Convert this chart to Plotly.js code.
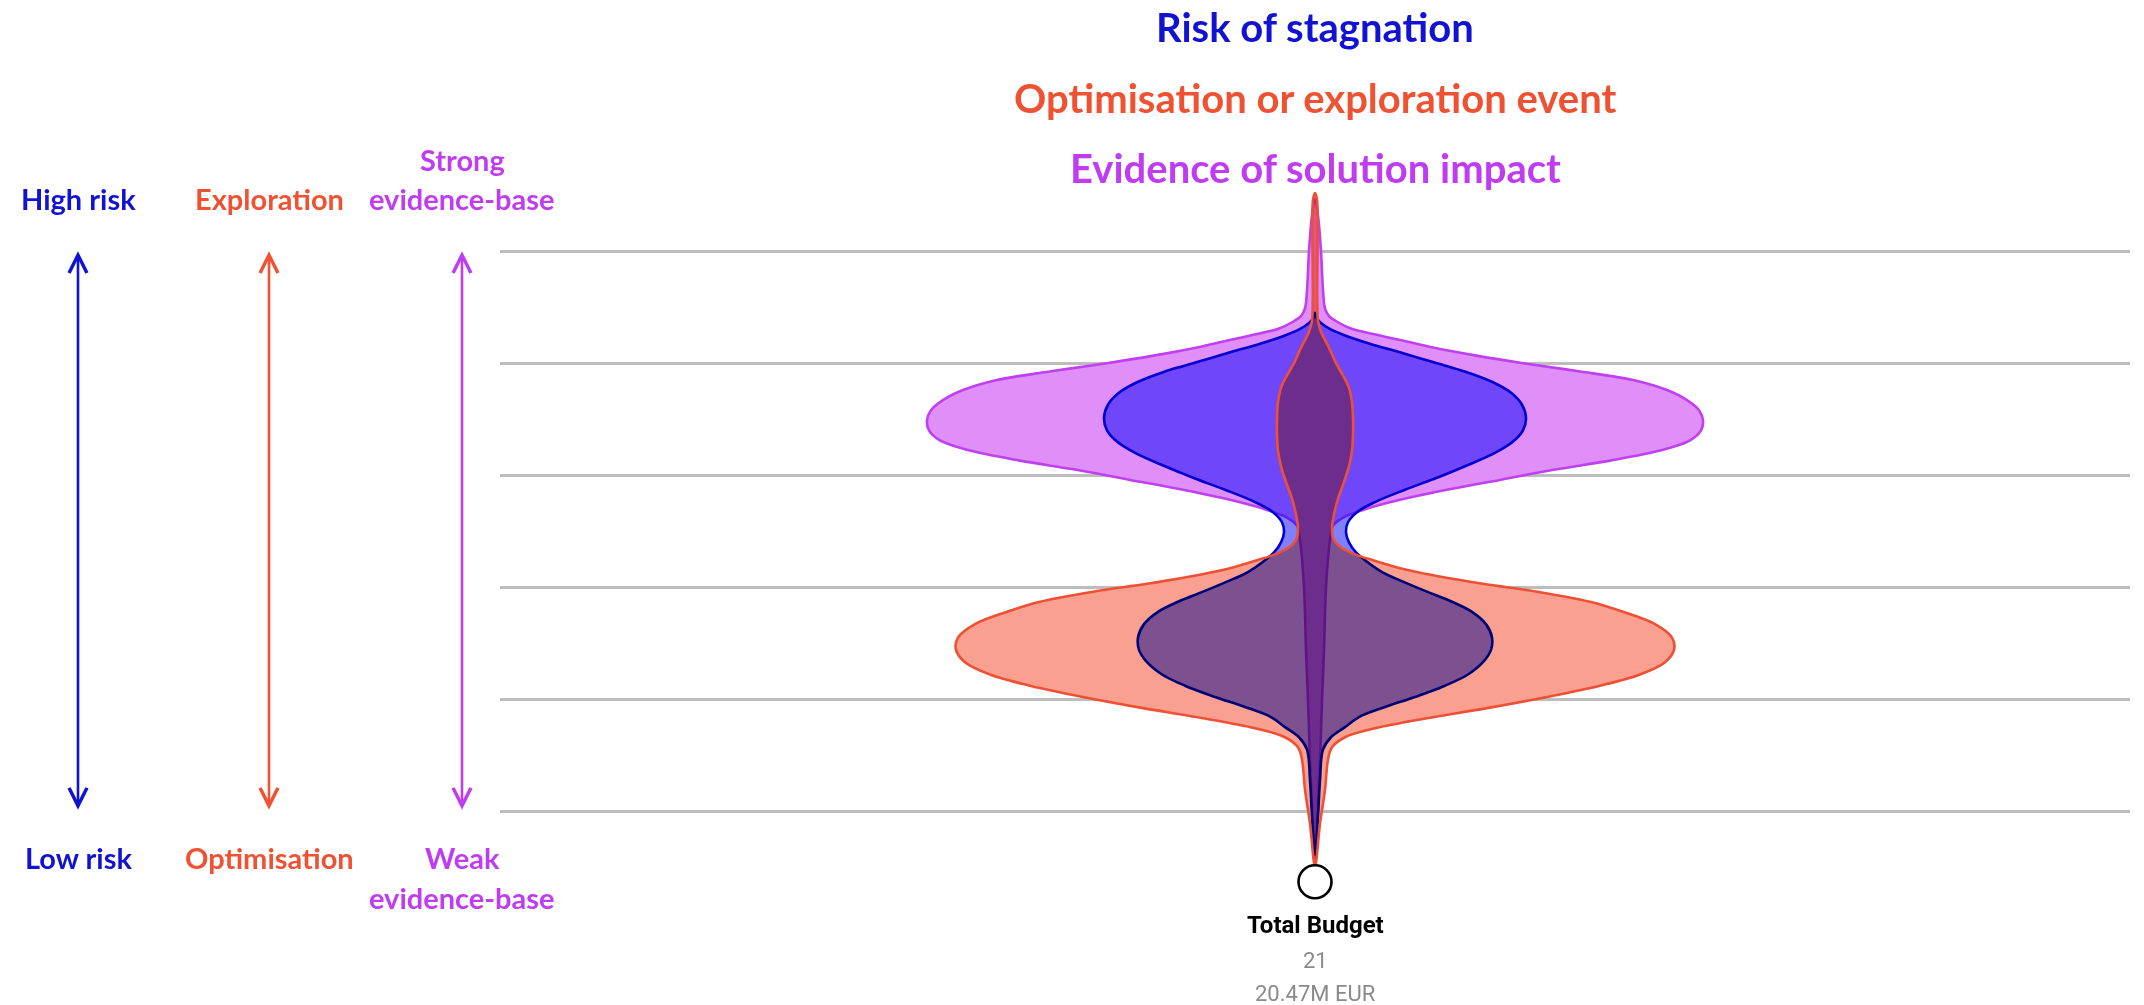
<!DOCTYPE html>
<html>
<head>
<meta charset="utf-8">
<script src="https://cdn.plot.ly/plotly-3.0.1.min.js"></script>
<style>
  html, body { margin: 0; padding: 0; background: #ffffff; }
  #chart { width: 2144px; height: 1005px; }
  #chart .js-fill { mix-blend-mode: multiply; }
</style>
</head>
<body>
<div id="chart"></div>
<script>
// ---------------- DATA ----------------
// Vertical levels (gridline units, 0 = bottom line, 5 = top line) and half-widths of each profile.
// Evidence of solution impact (purple)
const evidenceY  = [5.47, 5.32, 5.00, 4.65, 4.49, 4.42, 4.37, 4.31, 4.26, 4.21,
                    4.14, 4.07, 4.00, 3.93, 3.85, 3.76, 3.67, 3.58, 3.49, 3.40,
                    3.31, 3.22, 3.13, 3.05, 2.96, 2.87, 2.78, 2.69, 2.62, 2.55,
                    2.42, 2.00, 1.44, 0.99, 0.46, 0.01, -0.35, -0.46];
const evidenceHW = [0.00, 0.03, 0.06, 0.08, 0.10, 0.14, 0.22, 0.36, 0.58, 0.84,
                    1.18, 1.60, 2.08, 2.62, 3.18, 3.52, 3.72, 3.84, 3.88, 3.86,
                    3.75, 3.45, 2.95, 2.40, 1.86, 1.32, 0.85, 0.48, 0.28, 0.18,
                    0.15, 0.11, 0.09, 0.07, 0.05, 0.03, 0.01, 0.00];

// Risk of stagnation (blue)
const riskY  = [4.45, 4.40, 4.36, 4.31, 4.24, 4.17, 4.10, 4.01, 3.92, 3.83,
                3.73, 3.63, 3.51, 3.40, 3.30, 3.19, 3.08, 2.97, 2.87, 2.76,
                2.67, 2.58, 2.49, 2.40, 2.31, 2.22, 2.13, 2.05, 1.96, 1.87,
                1.78, 1.67, 1.55, 1.44, 1.33, 1.22, 1.12, 1.02, 0.93, 0.84,
                0.75, 0.66, 0.55, 0.28, -0.04, -0.39];
const riskHW = [0.00, 0.02, 0.06, 0.14, 0.32, 0.56, 0.84, 1.18, 1.52, 1.78,
                1.97, 2.07, 2.11, 2.08, 1.98, 1.78, 1.50, 1.20, 0.90, 0.60,
                0.42, 0.33, 0.31, 0.34, 0.41, 0.53, 0.68, 0.88, 1.12, 1.37,
                1.57, 1.71, 1.77, 1.76, 1.68, 1.53, 1.30, 1.00, 0.70, 0.44,
                0.30, 0.16, 0.08, 0.05, 0.03, 0.00];

// Optimisation or exploration event (red)
const eventY  = [5.52, 5.46, 4.38, 4.28, 4.19, 4.10, 4.00, 3.89, 3.78, 3.65,
                 3.51, 3.37, 3.22, 3.08, 2.94, 2.79, 2.65, 2.53, 2.44, 2.37,
                 2.30, 2.24, 2.17, 2.10, 2.03, 1.96, 1.87, 1.78, 1.67, 1.55,
                 1.44, 1.33, 1.22, 1.12, 1.02, 0.92, 0.83, 0.74, 0.66, 0.57,
                 0.46, 0.19, -0.11, -0.49];
const eventHW = [0.00, 0.02, 0.03, 0.06, 0.11, 0.16, 0.21, 0.28, 0.34, 0.37,
                 0.38, 0.38, 0.37, 0.34, 0.29, 0.23, 0.19, 0.17, 0.18, 0.24,
                 0.38, 0.58, 0.85, 1.22, 1.68, 2.22, 2.75, 3.08, 3.40, 3.57,
                 3.59, 3.50, 3.25, 2.85, 2.32, 1.72, 1.12, 0.60, 0.30, 0.17,
                 0.13, 0.10, 0.05, 0.00];

// Root node
const nodeX = [0];
const nodeY = [-0.63];
const nodeLabel  = "Total Budget";
const nodeCount  = "21";
const nodeAmount = "20.47M EUR";

// Texts
const titleLines = ["Risk of stagnation", "Optimisation or exploration event", "Evidence of solution impact"];
const scaleTop    = ["High risk", "Exploration", ["Strong", "evidence-base"]];
const scaleBottom = ["Low risk", "Optimisation", ["Weak", "evidence-base"]];

// ---------------- STYLE ----------------
const BLUE_T = '#1212d2', RED_T = '#ef5233', PURP_T = '#c03cf0';
const W = 2144, H = 1005, ML = 500, MR = 14, MT = 184, MB = 102;
const plotW = W - ML - MR, plotH = H - MT - MB;
const px2x = px => (px - ML) / plotW;
const py = Y => (MT + plotH - Y) / plotH;

function outline(ys, hws) {
  const xs = [], yy = [];
  for (let i = 0; i < ys.length; i++) { xs.push(-hws[i]); yy.push(ys[i]); }
  for (let i = ys.length - 2; i >= 0; i--) { xs.push(hws[i]); yy.push(ys[i]); }
  return { x: xs, y: yy };
}

function violin(ys, hws, fill, line, name) {
  const o = outline(ys, hws);
  return {
    type: 'scatter', mode: 'lines', name: name,
    x: o.x, y: o.y, fill: 'toself', fillcolor: fill,
    line: { color: line, width: 2.6, shape: 'spline', smoothing: 1 },
    hoverinfo: 'skip'
  };
}

const traces = [
  violin(evidenceY, evidenceHW, '#e08ef8', '#bf40f0', titleLines[2]),
  violin(riskY, riskHW, '#8080ff', '#0000d0', titleLines[0]),
  violin(eventY, eventHW, '#f9a090', '#ee5035', titleLines[1]),
  {
    type: 'scatter', mode: 'markers', x: nodeX, y: nodeY,
    marker: { size: 33, color: '#ffffff', line: { color: '#000000', width: 2.6 } },
    hoverinfo: 'skip'
  }
];

const ann = [];
const titleFont = (c) => ({ family: 'Lato, "Open Sans", sans-serif', size: 40, color: c });
const titleY = [27, 98, 168];
const titleC = [BLUE_T, RED_T, PURP_T];
titleLines.forEach((t, i) => ann.push({
  xref: 'paper', yref: 'paper', x: 0.5, y: py(titleY[i]), xanchor: 'center', yanchor: 'middle',
  text: '<b>' + t + '</b>', showarrow: false, font: titleFont(titleC[i])
}));

const colX = [78, 269, 462];
const colC = [BLUE_T, RED_T, PURP_T];
const lblFont = (c) => ({ family: 'Lato, "Open Sans", sans-serif', size: 29, color: c });
function addLabel(text, xpx, ypx, c) {
  ann.push({ xref: 'paper', yref: 'paper', x: px2x(xpx), y: py(ypx), xanchor: 'center', yanchor: 'middle',
    text: '<b>' + text + '</b>', showarrow: false, font: lblFont(c) });
}
scaleTop.forEach((t, i) => {
  if (Array.isArray(t)) { addLabel(t[0], colX[i], 159, colC[i]); addLabel(t[1], colX[i], 199, colC[i]); }
  else addLabel(t, colX[i], 199, colC[i]);
});
scaleBottom.forEach((t, i) => {
  if (Array.isArray(t)) { addLabel(t[0], colX[i], 857, colC[i]); addLabel(t[1], colX[i], 897, colC[i]); }
  else addLabel(t, colX[i], 857, colC[i]);
});

// double-headed arrows spanning the gridline range
colX.forEach((xp, i) => ann.push({
  xref: 'paper', yref: 'y', x: px2x(xp), y: 5, axref: 'pixel', ax: 0, ayref: 'y', ay: 0,
  text: '', showarrow: true, arrowside: 'end+start', arrowhead: 5, startarrowhead: 5,
  arrowsize: 1.35, startarrowsize: 1.35, arrowwidth: 2.6, arrowcolor: colC[i], standoff: 0, startstandoff: 0
}));

// node labels
ann.push({ xref: 'x', yref: 'paper', x: 0, y: py(925), xanchor: 'center', yanchor: 'middle', showarrow: false,
  text: '<b>' + nodeLabel + '</b>', font: { family: 'Roboto, Arial, sans-serif', size: 24, color: '#000000' } });
ann.push({ xref: 'x', yref: 'paper', x: 0, y: py(960), xanchor: 'center', yanchor: 'middle', showarrow: false,
  text: nodeCount, font: { family: 'Roboto, Arial, sans-serif', size: 22, color: '#8a8a8a' } });
ann.push({ xref: 'x', yref: 'paper', x: 0, y: py(993), xanchor: 'center', yanchor: 'middle', showarrow: false,
  text: nodeAmount, font: { family: 'Roboto, Arial, sans-serif', size: 22, color: '#8a8a8a' } });

const layout = {
  width: W, height: H,
  margin: { l: ML, r: MR, t: MT, b: MB, pad: 0 },
  paper_bgcolor: '#ffffff', plot_bgcolor: '#ffffff',
  showlegend: false,
  xaxis: { range: [-8.15, 8.15], showgrid: false, zeroline: false, showticklabels: false, ticks: '', showline: false, fixedrange: true },
  yaxis: { range: [-0.82, 5.6], tick0: 0, dtick: 1, showgrid: true, gridcolor: '#bdbdbd', gridwidth: 2.8,
           zeroline: false, showticklabels: false, ticks: '', showline: false, fixedrange: true },
  annotations: ann
};

Plotly.newPlot('chart', traces, layout, { displayModeBar: false, staticPlot: true });
</script>
</body>
</html>
